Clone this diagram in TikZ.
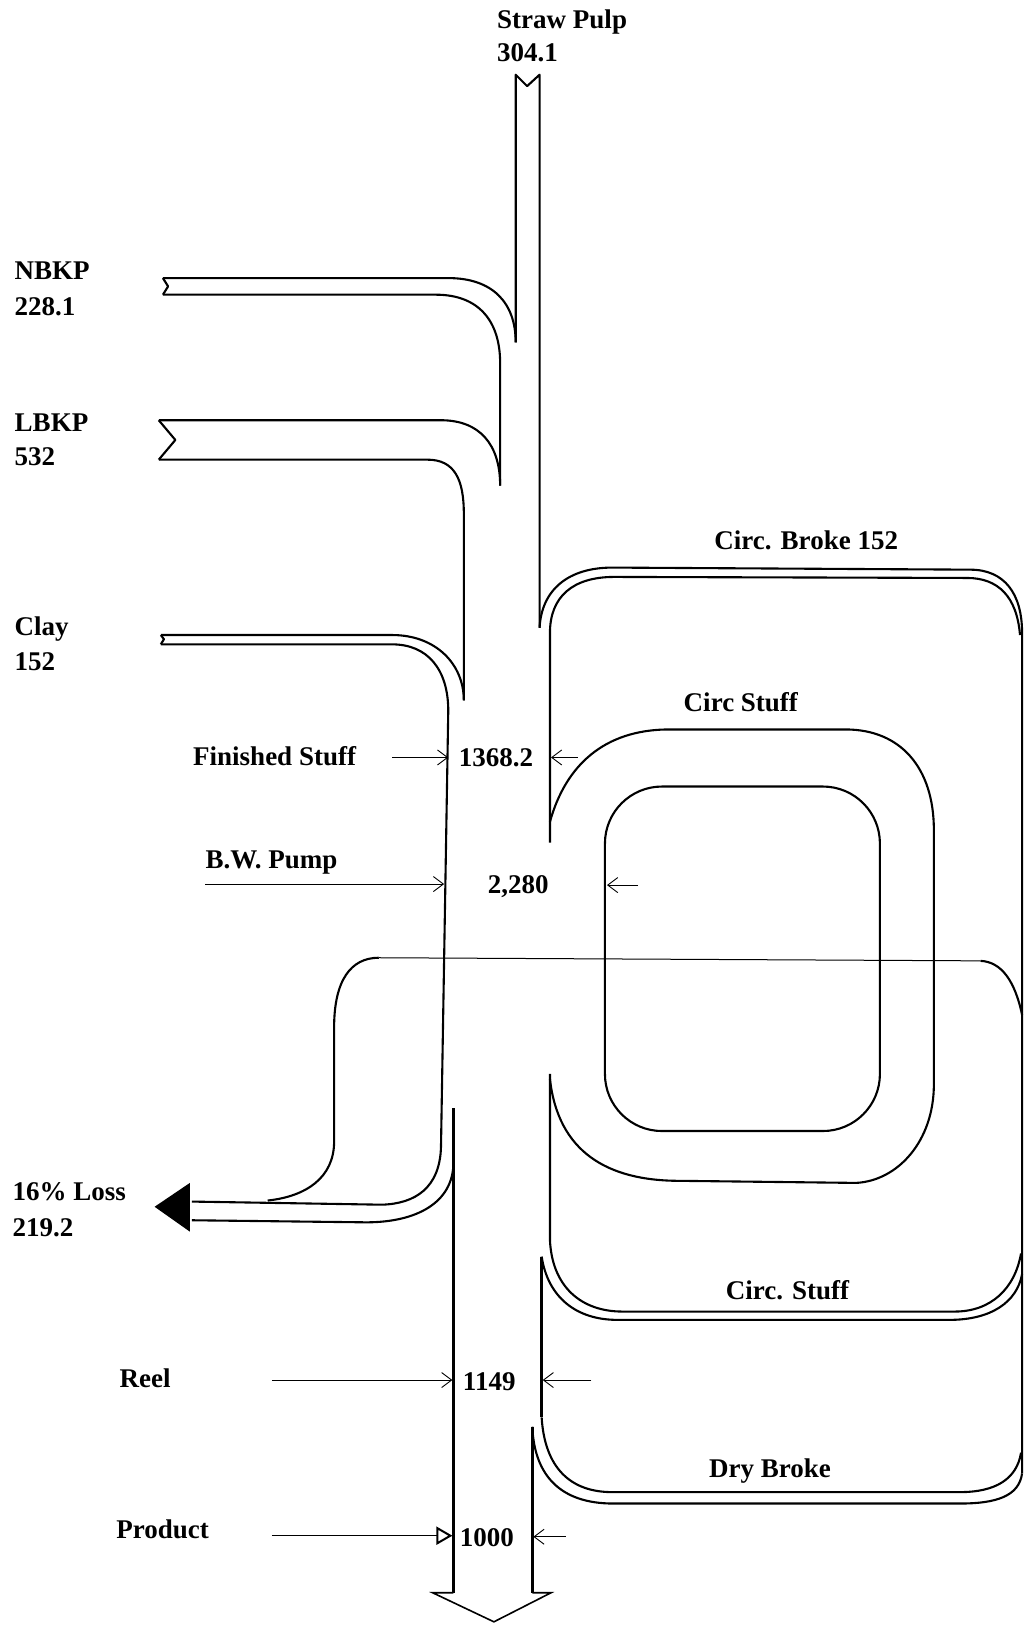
\documentclass[tikz,border=0pt]{standalone}
\usepackage{fontspec}
\setmainfont{Liberation Serif}
\usetikzlibrary{arrows.meta}
\begin{document}
\begin{tikzpicture}[x=1.0374pt,y=-1.0374pt,
  bandline/.style={line width=2.1pt, line join=round},
  mainline/.style={line width=3pt},
  thinline/.style={line width=1pt},
  headline/.style={line width=1.6pt, line join=miter},
  lbl/.style={font=\bfseries\fontsize{27}{30}\selectfont, inner sep=0pt},
  ptr/.style={line width=0.9pt, -{Straight Barb[length=10pt,width=15pt]}},
  ptrtri/.style={line width=0.9pt, -{Triangle[open,length=16pt,width=18pt,line width=2pt]}},
]
\useasboundingbox (0,0) rectangle (990,1568);

% ---------- labels ----------
\node[lbl, anchor=base west] (straw) at (479,27) {Straw Pulp};
\node[lbl, anchor=base west] (strawv) at (479,59) {304.1};
\node[lbl, anchor=base west] (nbkp) at (14,269) {NBKP};
\node[lbl, anchor=base west] (nbkpv) at (14,304) {228.1};
\node[lbl, anchor=base west] (lbkp) at (14,416) {LBKP};
\node[lbl, anchor=base west] (lbkpv) at (14,449) {532};
\node[lbl, anchor=base west] (clay) at (14,612) {Clay};
\node[lbl, anchor=base west] (clayv) at (14,646) {152};
\node[lbl, anchor=base] (cbroke) at (777,530) {Circ. Broke 152};
\node[lbl, anchor=base] (cstuff) at (714,686) {Circ Stuff};
\node[lbl, anchor=base west] (fin) at (186,738) {Finished Stuff};
\node[lbl, anchor=base west] (finv) at (442,739) {1368.2};
\node[lbl, anchor=base west] (bw) at (198,837) {B.W. Pump};
\node[lbl, anchor=base west] (bwv) at (470,861) {2,280};
\node[lbl, anchor=base west] (loss) at (12,1157) {16\% Loss};
\node[lbl, anchor=base west] (lossv) at (12,1192) {219.2};
\node[lbl, anchor=base] (cstuff2) at (759,1252) {Circ. Stuff};
\node[lbl, anchor=base west] (reel) at (115,1337) {Reel};
\node[lbl, anchor=base west] (reelv) at (446,1340) {1149};
\node[lbl, anchor=base] (dry) at (742,1424) {Dry Broke};
\node[lbl, anchor=base west] (prod) at (112,1483) {Product};
\node[lbl, anchor=base west] (prodv) at (443,1490) {1000};

% ---------- straw pulp ----------
\draw[bandline] (497,330) -- (497,72) -- (508,83) -- (520,72) -- (520,605);

% ---------- NBKP ----------
\draw[bandline] (157,268) -- (162,276) -- (157,284);
\draw[bandline] (157,268) -- (432,268) .. controls (475,268) and (497,292) .. (497,330);
\draw[bandline] (157,284) -- (420,284) .. controls (462,284) and (482,310) .. (482,350) -- (482,468);

% ---------- LBKP ----------
\draw[bandline] (153,405) -- (169,424) -- (153,443);
\draw[bandline] (153,405) -- (425,405) .. controls (462,405) and (482,428) .. (482,468);
\draw[bandline] (153,443) -- (412,443) .. controls (438,443) and (447,462) .. (447,495) -- (447,675);

% ---------- Clay ----------
\draw[bandline] (155,612) -- (158,616) -- (155,621);
\draw[bandline] (155,612) -- (378,612) .. controls (420,612) and (447,640) .. (447,675);
\draw[bandline] (155,621) -- (378,621) .. controls (412,621) and (432,645) .. (432,685)
   -- (425,1105) .. controls (424,1145) and (400,1160) .. (368,1161) -- (185,1158);

% ---------- loss outer ----------
\draw[bandline] (985,978) .. controls (978,945) and (965,927) .. (945,926);
\draw[thinline] (945,926) -- (365,923);
\draw[bandline] (365,923) .. controls (338,923) and (322,945) .. (322,990) -- (322,1100)
   .. controls (322,1135) and (295,1153) .. (258,1157);
\draw[bandline] (185,1176) -- (353,1178) .. controls (400,1178) and (437,1160) .. (437,1120);
\fill (149,1163) -- (183,1140) -- (183,1187) -- cycle;

% ---------- main outlet ----------
\draw[mainline] (437,1068) -- (437,1535);
\draw[mainline] (513,1375) -- (513,1535);
\draw[headline] (437,1535) -- (417,1535) -- (476,1563) -- (531,1535) -- (513,1535);

% ---------- Circ. Broke ----------
\draw[bandline] (520,605) .. controls (522,568) and (548,547) .. (590,547) -- (935,549)
   .. controls (968,549) and (985,572) .. (985,610) -- (985,1420);
\draw[bandline] (530,812) -- (530,610) .. controls (530,575) and (552,556) .. (592,556)
   -- (932,557) .. controls (962,557) and (980,575) .. (983,612);

% ---------- Circ Stuff loop ----------
\draw[bandline] (530,792) .. controls (545,738) and (582,703) .. (645,703) -- (815,703)
   .. controls (868,703) and (900,740) .. (900,800) -- (900,1045)
   .. controls (900,1100) and (865,1138) .. (825,1140) -- (655,1138)
   .. controls (585,1138) and (538,1110) .. (530,1040);
\draw[bandline, rounded corners=57pt] (583,758) rectangle (848,1090);

% ---------- Circ. Stuff (bottom) ----------
\draw[bandline] (530,1035) -- (530,1195) .. controls (532,1240) and (560,1264) .. (600,1264)
   -- (920,1264) .. controls (955,1264) and (978,1242) .. (984,1208);
\draw[bandline] (522,1211) .. controls (528,1250) and (555,1272) .. (595,1272)
   -- (915,1272) .. controls (955,1272) and (980,1255) .. (985,1228);
\draw[mainline] (522,1211) -- (522,1366);

% ---------- Dry Broke ----------
\draw[bandline] (522,1366) .. controls (525,1415) and (550,1438) .. (590,1438) -- (925,1438)
   .. controls (960,1438) and (980,1425) .. (984,1400);
\draw[bandline] (985,1420) .. controls (982,1442) and (960,1449) .. (925,1449) -- (591,1449)
   .. controls (540,1449) and (515,1422) .. (513,1375);

% ---------- pointer arrows ----------
\coordinate (f1) at (378,730); \coordinate (f2) at (432,730);
\coordinate (f3) at (557,730); \coordinate (f4) at (531,730);
\coordinate (b1) at (198,852); \coordinate (b2) at (428,852);
\coordinate (b3) at (615,853); \coordinate (b4) at (585,853);
\coordinate (r1) at (262,1330); \coordinate (r2) at (436,1330);
\coordinate (r3) at (570,1330); \coordinate (r4) at (523,1330);
\coordinate (p1) at (262,1480); \coordinate (p2) at (436,1480);
\coordinate (p3) at (545,1481); \coordinate (p4) at (514,1481);
\draw[ptr] (f1) -- (f2);
\draw[ptr] (f3) -- (f4);
\draw[ptr] (b1) -- (b2);
\draw[ptr] (b3) -- (b4);
\draw[ptr] (r1) -- (r2);
\draw[ptr] (r3) -- (r4);
\draw[ptrtri] (p1) -- (p2);
\draw[ptr] (p3) -- (p4);
\end{tikzpicture}
\end{document}
